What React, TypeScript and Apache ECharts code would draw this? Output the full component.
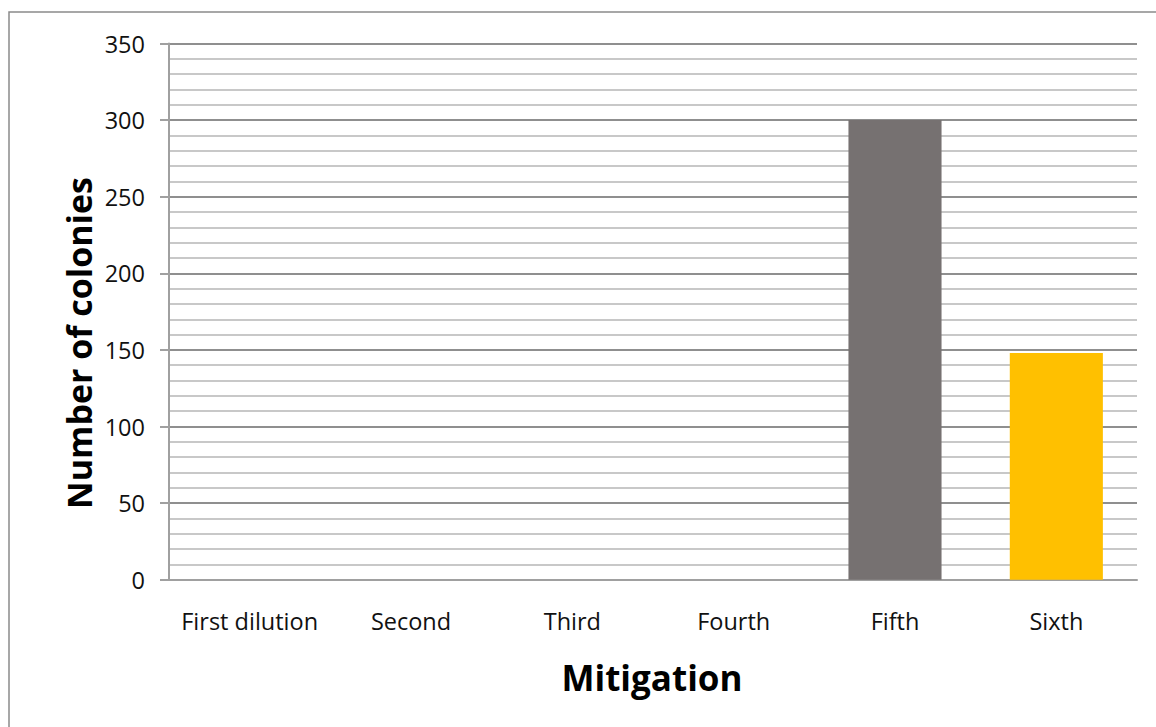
import React, { useEffect, useRef } from "react";
import * as echarts from "echarts";

// Colony counts per dilution step
const categories = ["First dilution", "Second", "Third", "Fourth", "Fifth", "Sixth"];
const colonies = [0, 0, 0, 0, 300, 148];
const barColors = ["#767171", "#767171", "#767171", "#767171", "#767171", "#FFC000"];
const yTicks = { min: 0, max: 350, interval: 50 };
const xTitle = "Mitigation";
const yTitle = "Number of colonies";

const FONT = "'Open Sans', 'Noto Sans', sans-serif";

export default function App() {
  const ref = useRef<HTMLDivElement>(null);

  useEffect(() => {
    if (!ref.current) return;
    const chart = echarts.init(ref.current, null, { renderer: "svg" });
    chart.setOption({
      animation: false,
      backgroundColor: "#ffffff",
      grid: { left: 169, right: 19, top: 43.5, bottom: 147.3, containLabel: false },
      xAxis: {
        type: "category",
        data: categories,
        axisLine: { show: true, lineStyle: { color: "#a0a0a0", width: 2 } },
        axisTick: { show: false },
        axisLabel: { color: "#111", fontFamily: FONT, fontSize: 23.5, margin: 29, interval: 0 },
      },
      yAxis: {
        type: "value",
        min: yTicks.min,
        max: yTicks.max,
        interval: yTicks.interval,
        axisLine: { show: true, lineStyle: { color: "#a0a0a0", width: 2 } },
        axisTick: { show: true, length: 9, lineStyle: { color: "#a0a0a0", width: 2 } },
        axisLabel: { color: "#111", fontFamily: FONT, fontSize: 23.5, margin: 24 },
        splitLine: { show: true, lineStyle: { color: "#8f8f8f", width: 2 } },
        minorTick: { show: false, splitNumber: 5 },
        minorSplitLine: { show: true, lineStyle: { color: "#c8c8c8", width: 2 } },
      },
      series: [
        {
          type: "bar",
          barWidth: "57.7%",
          data: colonies.map((v, i) => ({ value: v, itemStyle: { color: barColors[i] } })),
        },
      ],
      graphic: [
        {
          type: "rect",
          shape: { x: 9, y: 12, width: 1200, height: 800 },
          style: { fill: "none", stroke: "#8a8a8a", lineWidth: 1.5 },
          z: 100,
        },
        {
          type: "text",
          x: 652,
          y: 677,
          style: {
            text: xTitle,
            font: `bold 35px ${FONT}`,
            fill: "#000",
            align: "center",
            verticalAlign: "middle",
          },
        },
        {
          type: "text",
          x: 79,
          y: 343,
          rotation: Math.PI / 2,
          style: {
            text: yTitle,
            font: `bold 34px ${FONT}`,
            fill: "#000",
            align: "center",
            verticalAlign: "middle",
          },
        },
      ],
    });
    return () => chart.dispose();
  }, []);

  return (
    <div
      ref={ref}
      style={{ position: "fixed", left: 0, top: 0, width: 1156, height: 727 }}
    />
  );
}
